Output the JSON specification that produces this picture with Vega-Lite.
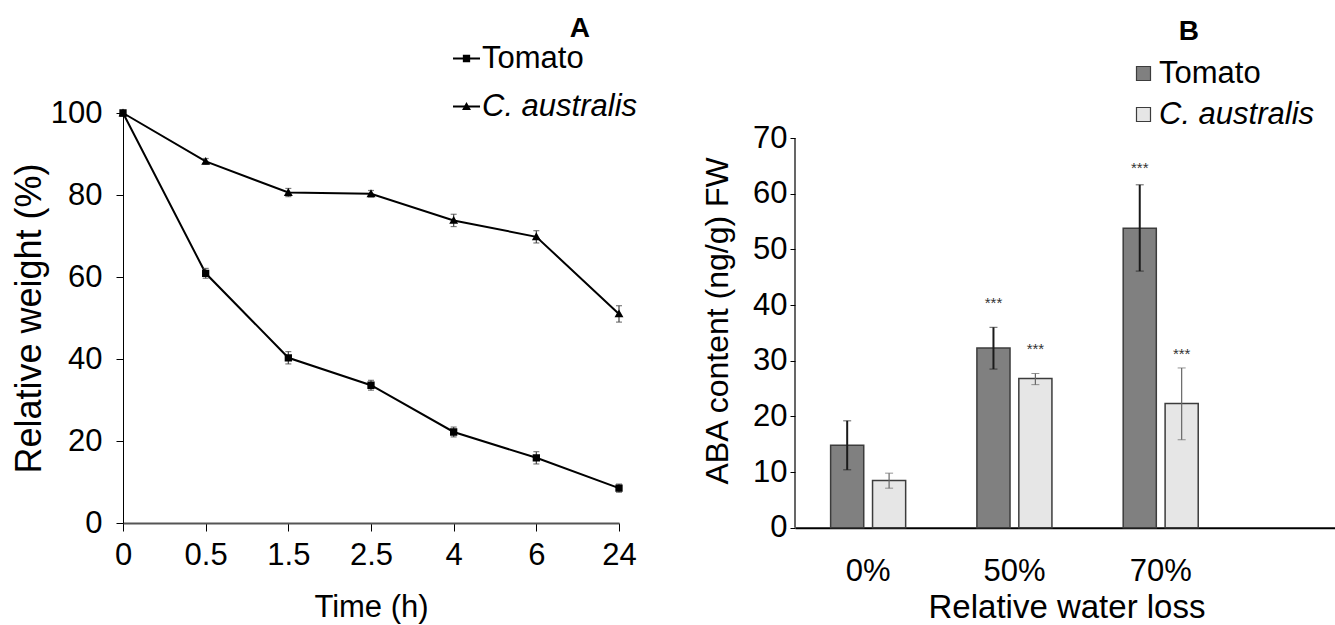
{
  "$schema": "https://vega.github.io/schema/vega-lite/v6.json",
  "background": "white",
  "padding": {"left": 11, "top": 15, "right": 0, "bottom": 0},
  "spacing": 63,
  "config": {
    "font": "Liberation Sans",
    "view": {"stroke": null},
    "axis": {
      "labelFont": "Liberation Sans", "titleFont": "Liberation Sans",
      "labelColor": "black", "titleColor": "black",
      "labelFontSize": 31, "titleFontSize": 31, "titleFontWeight": "normal",
      "domainColor": "black", "tickColor": "black", "grid": false
    },
    "legend": {"labelFont": "Liberation Sans", "labelFontSize": 31, "labelColor": "black"},
    "title": {"font": "Liberation Sans", "fontSize": 28, "fontWeight": "bold", "color": "black"}
  },
  "resolve": {"scale": {"shape": "independent", "fill": "independent", "color": "independent", "x": "independent", "y": "independent"}, "legend": {"shape": "independent", "fill": "independent", "color": "independent"}},
  "hconcat": [
    {
      "width": 496,
      "height": 410,
      "title": {"text": "A", "anchor": "end", "frame": "group", "dx": -29, "offset": 0},
      "data": {"values": [
        {"time": "0", "species": "Tomato", "series": "Tomato line", "weight": 100, "se": 0.5},
        {"time": "0.5", "species": "Tomato", "series": "Tomato line", "weight": 60.9, "se": 1.2},
        {"time": "1.5", "species": "Tomato", "series": "Tomato line", "weight": 40.3, "se": 1.5},
        {"time": "2.5", "species": "Tomato", "series": "Tomato line", "weight": 33.6, "se": 1.2},
        {"time": "4", "species": "Tomato", "series": "Tomato line", "weight": 22.2, "se": 1.2},
        {"time": "6", "species": "Tomato", "series": "Tomato line", "weight": 15.9, "se": 1.5},
        {"time": "24", "species": "Tomato", "series": "Tomato line", "weight": 8.5, "se": 1.0},
        {"time": "0", "species": "C. australis", "series": "C. australis line", "weight": 100, "se": 0.5},
        {"time": "0.5", "species": "C. australis", "series": "C. australis line", "weight": 88.2, "se": 0.7},
        {"time": "1.5", "species": "C. australis", "series": "C. australis line", "weight": 80.6, "se": 1.0},
        {"time": "2.5", "species": "C. australis", "series": "C. australis line", "weight": 80.3, "se": 0.8},
        {"time": "4", "species": "C. australis", "series": "C. australis line", "weight": 73.8, "se": 1.5},
        {"time": "6", "species": "C. australis", "series": "C. australis line", "weight": 69.8, "se": 1.5},
        {"time": "24", "species": "C. australis", "series": "C. australis line", "weight": 51.0, "se": 2.0}
      ]},
      "encoding": {
        "x": {
          "field": "time", "type": "ordinal",
          "sort": ["0", "0.5", "1.5", "2.5", "4", "6", "24"],
          "scale": {"type": "point", "padding": 0},
          "axis": {"title": "Time (h)", "labelAngle": 0, "tickSize": 8, "labelPadding": 9, "titlePadding": 22, "domainWidth": 2, "domainColor": "#555"}
        },
        "y": {
          "field": "weight", "type": "quantitative",
          "scale": {"domain": [0, 100], "nice": false},
          "axis": {"title": "Relative weight (%)", "titleFontSize": 36, "values": [0, 20, 40, 60, 80, 100], "tickSize": 7, "labelPadding": 14, "titlePadding": 2}
        }
      },
      "layer": [
        {
          "transform": [{"filter": "false"}],
          "mark": {"type": "point", "filled": false, "color": "black", "fill": "black", "stroke": "black", "strokeWidth": 2, "size": 729, "opacity": 1, "fillOpacity": 1, "strokeOpacity": 1},
          "encoding": {
            "shape": {
              "field": "species", "type": "nominal",
              "scale": {"domain": ["Tomato", "C. australis"], "range": ["M-1,0L1,0M-0.27,-0.27L0.27,-0.27L0.27,0.27L-0.27,0.27Z", "M-1,0L1,0M0,-0.33L0.33,0.25L-0.33,0.25Z"]},
              "legend": {
                "orient": "none", "legendX": 328, "legendY": -70, "title": null,
                "symbolSize": 729, "symbolStrokeWidth": 2, "symbolStrokeColor": "black", "symbolFillColor": "black",
                "labelOffset": 0, "rowPadding": 16, "padding": 0,
                "labelFontStyle": {"expr": "datum.value === 'C. australis' ? 'italic' : 'normal'"}
              }
            }
          }
        },
        {
          "mark": {"type": "line", "strokeWidth": 2},
          "encoding": {
            "detail": {"field": "species"},
            "color": {
              "field": "series", "type": "nominal",
              "scale": {"domain": ["Tomato line", "C. australis line"], "range": ["black", "black"]},
              "legend": {
                "orient": "none", "legendX": 328, "legendY": -70, "title": null,
                "symbolType": "stroke", "symbolSize": 729, "symbolStrokeWidth": 2, "symbolStrokeColor": "black",
                "labelExpr": "' '", "labelOffset": 0, "rowPadding": 16, "padding": 0
              }
            }
          }
        },
        {
          "mark": {"type": "errorbar", "ticks": {"size": 6}, "color": "#444", "thickness": 1.2},
          "encoding": {"yError": {"field": "se"}, "detail": {"field": "species"}}
        },
        {
          "mark": {"type": "point", "filled": true, "color": "black", "size": 729, "strokeWidth": 0, "opacity": 1},
          "encoding": {
            "shape": {"field": "species", "type": "nominal", "legend": null}
          }
        }
      ]
    },
    {
      "width": 543,
      "height": 414.7,
      "title": {"text": "B", "anchor": "end", "frame": "group", "dx": -139, "offset": 12},
      "data": {"values": [
        {"loss": "0%", "species": "Tomato", "aba": 14.8, "lo": 10.4, "hi": 19.2, "star": null},
        {"loss": "0%", "species": "C. australis", "aba": 8.5, "lo": 7.1, "hi": 9.8, "star": null},
        {"loss": "50%", "species": "Tomato", "aba": 32.3, "lo": 28.5, "hi": 36.0, "star": 41.1},
        {"loss": "50%", "species": "C. australis", "aba": 26.8, "lo": 25.7, "hi": 27.7, "star": 32.8},
        {"loss": "70%", "species": "Tomato", "aba": 53.8, "lo": 46.1, "hi": 61.6, "star": 65.4},
        {"loss": "70%", "species": "C. australis", "aba": 22.3, "lo": 15.8, "hi": 28.7, "star": 31.9}
      ]},
      "encoding": {
        "x": {
          "field": "loss", "type": "nominal", "sort": ["0%", "50%", "70%"],
          "scale": {"paddingInner": 0, "paddingOuter": 0.356, "align": 0},
          "axis": {"title": "Relative water loss", "titleFontSize": 33, "labelAngle": 0, "ticks": false, "labelPadding": 29, "titlePadding": 5, "domainWidth": 2, "domainColor": "black"}
        }
      },
      "layer": [
        {
          "mark": {"type": "bar", "stroke": "#3c3c3c", "strokeWidth": 1.5},
          "encoding": {
            "xOffset": {"field": "species", "type": "nominal", "sort": ["Tomato", "C. australis"], "scale": {"paddingInner": 0.21, "paddingOuter": 0.85}},
            "y": {
              "field": "aba", "type": "quantitative", "title": "ABA content (ng/g) FW",
              "scale": {"domain": [0, 74.5], "nice": false},
              "axis": {"values": [0, 10, 20, 30, 40, 50, 60, 70], "domain": false, "tickSize": 5, "labelPadding": 3, "titlePadding": 18, "titleFontSize": 32}
            },
            "fill": {
              "field": "species", "type": "nominal",
              "scale": {"domain": ["Tomato", "C. australis"], "range": ["#808080", "#e6e6e6"]},
              "legend": {
                "orient": "none", "legendX": 333, "legendY": -55, "title": null,
                "symbolType": "square", "symbolSize": 196, "symbolStrokeColor": "#3c3c3c", "symbolStrokeWidth": 1.2,
                "labelOffset": 0, "rowPadding": 9, "padding": 0,
                "labelFontStyle": {"expr": "datum.value === 'C. australis' ? 'italic' : 'normal'"}
              }
            }
          }
        },
        {
          "mark": {"type": "rule"},
          "encoding": {
            "xOffset": {"field": "species", "type": "nominal", "sort": ["Tomato", "C. australis"]},
            "y": {"field": "lo", "type": "quantitative", "title": "ABA content (ng/g) FW"},
            "y2": {"field": "hi"},
            "color": {"condition": {"test": "datum.species === 'Tomato'", "value": "#1a1a1a"}, "value": "#666666"},
            "strokeWidth": {"condition": {"test": "datum.species === 'Tomato'", "value": 2}, "value": 1.2}
          }
        },
        {
          "mark": {"type": "tick", "orient": "horizontal", "size": 8},
          "encoding": {
            "xOffset": {"field": "species", "type": "nominal", "sort": ["Tomato", "C. australis"]},
            "y": {"field": "lo", "type": "quantitative", "title": "ABA content (ng/g) FW"},
            "color": {"condition": {"test": "datum.species === 'Tomato'", "value": "#1a1a1a"}, "value": "#666666"},
            "strokeWidth": {"condition": {"test": "datum.species === 'Tomato'", "value": 2}, "value": 1.2}
          }
        },
        {
          "mark": {"type": "tick", "orient": "horizontal", "size": 8},
          "encoding": {
            "xOffset": {"field": "species", "type": "nominal", "sort": ["Tomato", "C. australis"]},
            "y": {"field": "hi", "type": "quantitative", "title": "ABA content (ng/g) FW"},
            "color": {"condition": {"test": "datum.species === 'Tomato'", "value": "#1a1a1a"}, "value": "#666666"},
            "strokeWidth": {"condition": {"test": "datum.species === 'Tomato'", "value": 2}, "value": 1.2}
          }
        },
        {
          "transform": [{"filter": "datum.star != null"}],
          "mark": {"type": "text", "text": "***", "fontSize": 15, "color": "#333", "baseline": "middle", "dy": 4},
          "encoding": {
            "xOffset": {"field": "species", "type": "nominal", "sort": ["Tomato", "C. australis"]},
            "y": {"field": "star", "type": "quantitative", "title": "ABA content (ng/g) FW"}
          }
        },
        {
          "data": {"values": [{"from": 0, "to": 70}]},
          "mark": {"type": "rule", "color": "black", "strokeWidth": 1.2},
          "encoding": {
            "x": {"datum": "0%", "bandPosition": 0},
            "y": {"field": "from", "type": "quantitative", "title": "ABA content (ng/g) FW"},
            "y2": {"field": "to"}
          }
        }
      ]
    }
  ]
}
